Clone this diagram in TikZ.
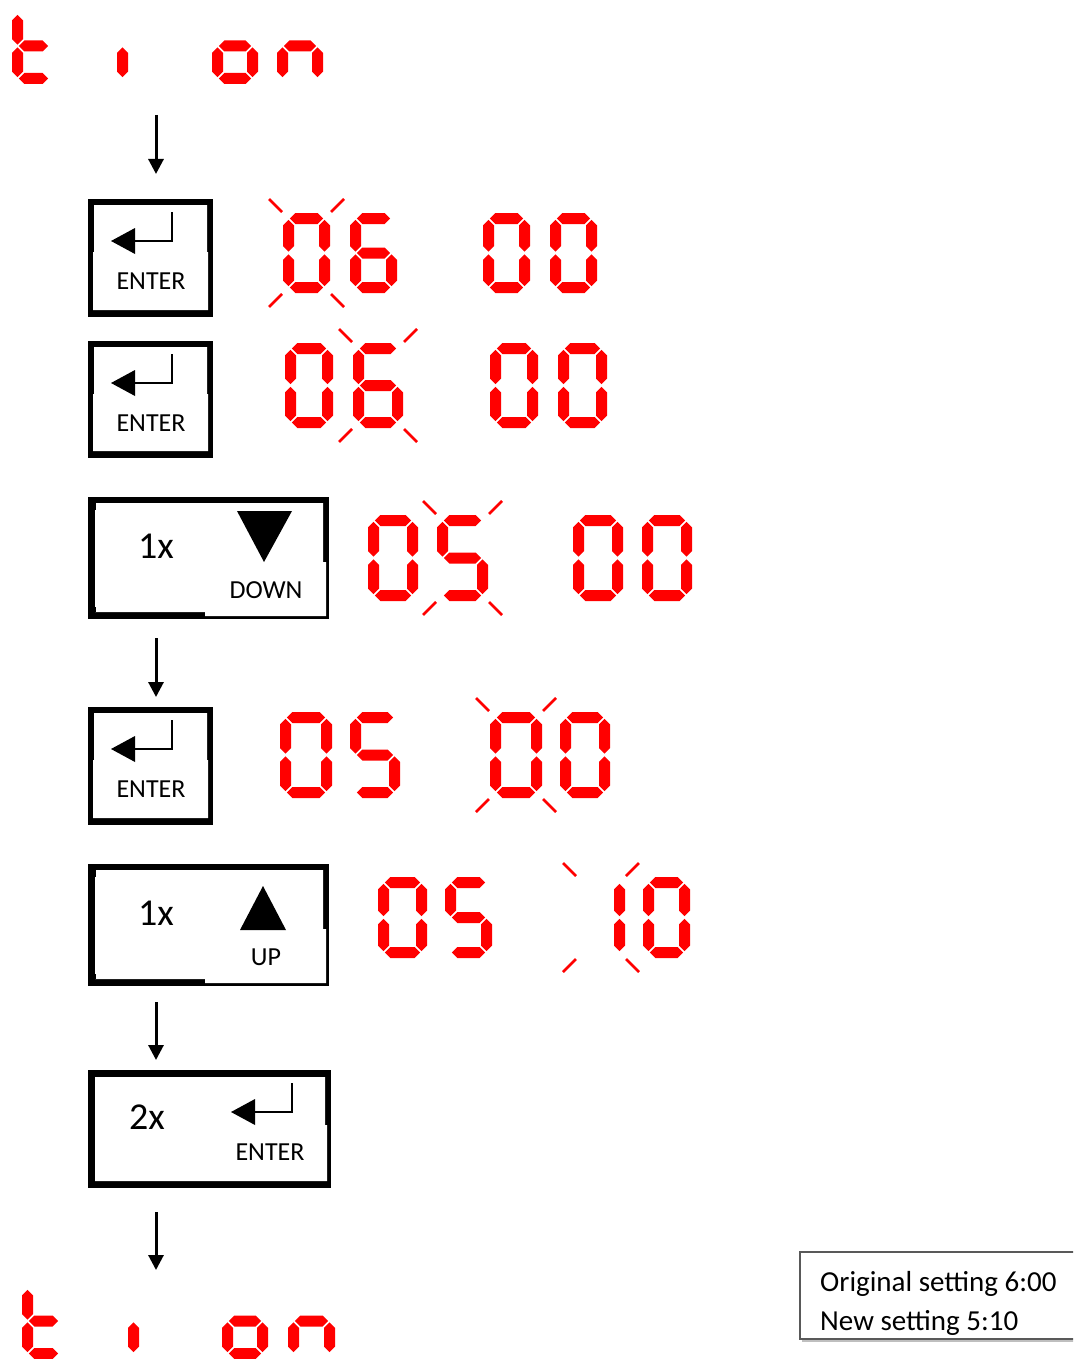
\documentclass[tikz,border=0pt]{standalone}
\usepackage{fontspec}
\setmainfont{Carlito}
\usetikzlibrary{arrows.meta}
\definecolor{segred}{RGB}{255,0,0}
\def\T{11}\def\G{1.3}
\newcommand\hseg[3]{\fill[segred] ({#1},{#3}) -- ({#1+\T/2},{#3-\T/2}) -- ({#2-\T/2},{#3-\T/2}) -- ({#2},{#3}) -- ({#2-\T/2},{#3+\T/2}) -- ({#1+\T/2},{#3+\T/2}) -- cycle;}
\newcommand\vseg[3]{\fill[segred] ({#1},{#2}) -- ({#1+\T/2},{#2+\T/2}) -- ({#1+\T/2},{#3-\T/2}) -- ({#1},{#3}) -- ({#1-\T/2},{#3-\T/2}) -- ({#1-\T/2},{#2+\T/2}) -- cycle;}
\def\segs#1#2#3#4#5#6#7\relax{%
 \ifnum#1=1 \hseg{\xl+\G}{\xr-\G}{\yt}\fi
 \ifnum#2=1 \vseg{\xr}{\yt+\G}{\ym-\G}\fi
 \ifnum#3=1 \vseg{\xr}{\ym+\G}{\yb-\G}\fi
 \ifnum#4=1 \hseg{\xl+\G}{\xr-\G}{\yb}\fi
 \ifnum#5=1 \vseg{\xl}{\ym+\G}{\yb-\G}\fi
 \ifnum#6=1 \vseg{\xl}{\yt+\G}{\ym-\G}\fi
 \ifnum#7=1 \hseg{\xl+\G}{\xr-\G}{\ym}\fi}
\newcommand\sevseg[5]{%
 \pgfmathsetmacro\xl{#1+\T/2}\pgfmathsetmacro\xr{#1+#3-\T/2}%
 \pgfmathsetmacro\yt{#2+\T/2}\pgfmathsetmacro\ym{#2+#4/2}\pgfmathsetmacro\yb{#2+#4-\T/2}%
 \segs#5\relax}
\newcommand\blink[4]{%
 \draw[blinkline] ({#1-1},{#2-1}) -- ({#1-14},{#2-14});
 \draw[blinkline] ({#1+#3+1},{#2-1}) -- ({#1+#3+14},{#2-14});
 \draw[blinkline] ({#1-1},{#2+#4+1}) -- ({#1-14},{#2+#4+14});
 \draw[blinkline] ({#1+#3+1},{#2+#4+1}) -- ({#1+#3+14},{#2+#4+14});}
\newcommand\entersym[2]{%
 \draw[line width=2.5pt] (#1,#2) -- (#1,{#2+29}) -- ({#1-40},{#2+29});
 \fill ({#1-61},{#2+29}) -- ({#1-37},{#2+16}) -- ({#1-37},{#2+42}) -- cycle;}
% small enter key: outer x1 y1 x2 y2
\newcommand\smallkey[5]{%
 \node[keyouter, minimum width={(#4-#2)*1pt}, minimum height={(#5-#3)*1pt}] (#1) at ({(#2+#4)/2},{(#3+#5)/2}) {};
 \fill[white] ({#2+6},{#3+6}) -- ({#4-6},{#3+6}) -- ({#4-6},{#3+53}) -- ({#4-5},{#3+53}) -- ({#4-5},{#5-7}) -- ({#2+5},{#5-7}) -- ({#2+5},{#3+53}) -- ({#2+6},{#3+53}) -- cycle;}
% wide key with thin lower-right border
\newcommand\widekey[5]{%
 \node[keyouter, minimum width={(#4-#2)*1pt}, minimum height={(#5-#3)*1pt}] (#1) at ({(#2+#4)/2},{(#3+#5)/2}) {};
 \fill[white] ({#2+7},{#3+6}) -- ({#4-6},{#3+6}) -- ({#4-6},{#3+65}) -- ({#4-3},{#3+65}) -- ({#4-3},{#5-3}) -- ({#2+117},{#5-3}) -- ({#2+117},{#5-7}) -- ({#2+7},{#5-7}) -- cycle;
 \fill[black] ({#2+6},{#3+6}) rectangle ({#2+8},{#3+13});
 \fill[black] ({#2+6},{#5-7}) rectangle ({#2+8},{#5-12});}
\tikzset{
 blinkline/.style={draw=segred, line width=2.6pt},
 keyouter/.style={fill=black, draw=none, inner sep=0pt, outer sep=0pt},
 keytext/.style={font=\fontsize{26}{30}\selectfont, inner sep=0pt},
 counttext/.style={font=\fontsize{38}{44}\selectfont, inner sep=0pt},
 legendtext/.style={font=\fontsize{29}{34}\selectfont, inner sep=0pt, anchor=base west},
 flowarrow/.style={line width=3pt, -{Triangle[length=15pt,width=15pt]}}
}
\begin{document}
\begin{tikzpicture}[x=1pt,y=-1pt]
\useasboundingbox (0,0) rectangle (1073,1359);
\clip (0,0) rectangle (1073,1359);
% top "t i on"
\sevseg{12}{8}{43}{76}{0001111}
\sevseg{117}{8}{43}{76}{0000100}
\sevseg{212}{8}{46}{76}{0011101}
\sevseg{277}{8}{46}{76}{0010101}
% arrows
\coordinate (a1s) at (156,115); \coordinate (a1e) at (156,174);
\draw[flowarrow] (a1s) -- (a1e);
% buttons
\smallkey{enter1}{88}{199}{213}{317}
\entersym{172}{212}
\node[keytext] (enter1t) at (151,281) {ENTER};
\smallkey{enter2}{88}{341}{213}{458}
\entersym{172}{354}
\node[keytext] (enter2t) at (151,423) {ENTER};
\widekey{down}{88}{497}{329}{619}
\node[counttext] (downn) at (156,546) {1x};
\fill (237,511) -- (292,511) -- (264,562) -- cycle;
\node[keytext] (downt) at (266,590) {DOWN};
\coordinate (a2s) at (156,638); \coordinate (a2e) at (156,697);
\draw[flowarrow] (a2s) -- (a2e);
\smallkey{enter3}{88}{707}{213}{825}
\entersym{172}{720}
\node[keytext] (enter3t) at (151,789) {ENTER};
\widekey{up}{88}{864}{329}{986}
\node[counttext] (upn) at (156,913) {1x};
\fill (263,886) -- (286,930) -- (240,930) -- cycle;
\node[keytext] (upt) at (266,957) {UP};
\coordinate (a3s) at (156,1002); \coordinate (a3e) at (156,1060);
\draw[flowarrow] (a3s) -- (a3e);
\node[keyouter, minimum width=243pt, minimum height=118pt] (enter4) at (209.5,1129) {};
\fill[white] (95,1077) -- (325,1077) -- (325,1125) -- (327,1125) -- (327,1181) -- (95,1181) -- cycle;
\node[counttext] (enter4n) at (147,1117) {2x};
\entersym{292}{1083}
\node[keytext] (enter4t) at (270,1152) {ENTER};
\coordinate (a4s) at (156,1212); \coordinate (a4e) at (156,1270);
\draw[flowarrow] (a4s) -- (a4e);
% row 1: 06 00, blink hours tens
\sevseg{283}{213}{47}{80}{1111110}
\sevseg{350}{213}{47}{80}{1011111}
\sevseg{483}{213}{47}{80}{1111110}
\sevseg{550}{213}{47}{80}{1111110}
\blink{283}{213}{47}{80}
% row 2
\sevseg{285}{343}{48}{85}{1111110}
\sevseg{353}{343}{50}{85}{1011111}
\sevseg{490}{343}{48}{85}{1111110}
\sevseg{558}{343}{49}{85}{1111110}
\blink{353}{343}{50}{85}
% row 3
\sevseg{368}{515}{50}{86}{1111110}
\sevseg{437}{515}{51}{86}{1011011}
\sevseg{573}{515}{50}{86}{1111110}
\sevseg{642}{515}{50}{86}{1111110}
\blink{437}{515}{51}{86}
% row 4
\sevseg{280}{712}{52}{86}{1111110}
\sevseg{350}{712}{50}{86}{1011011}
\sevseg{490}{712}{52}{86}{1111110}
\sevseg{560}{712}{50}{86}{1111110}
\blink{490}{712}{52}{86}
% row 5
\sevseg{378}{877}{49}{81}{1111110}
\sevseg{445}{877}{47}{81}{1011011}
\sevseg{577}{877}{48}{81}{0110000}
\sevseg{643}{877}{47}{81}{1111110}
\blink{577}{877}{48}{81}
% bottom "t i on"
\sevseg{22}{1283}{43}{76}{0001111}
\sevseg{128}{1283}{43}{76}{0000100}
\sevseg{222}{1283}{46}{76}{0011101}
\sevseg{288}{1283}{47}{76}{0010101}
% legend
\fill[white] (800,1252) rectangle (1080,1339);
\begin{scope}
\clip (800,1252) rectangle (1080,1338);
\node[legendtext] (leg1) at (820,1291) {Original setting 6:00};
\node[legendtext] (leg2) at (820,1330) {New setting 5:10};
\end{scope}
\draw[black!25, line width=1.5pt] (802,1341) -- (1080,1341);
\draw[black!65, line width=1.6pt] (1080,1252) -- (800,1252) -- (800,1339) -- (1080,1339);
\end{tikzpicture}
\end{document}
